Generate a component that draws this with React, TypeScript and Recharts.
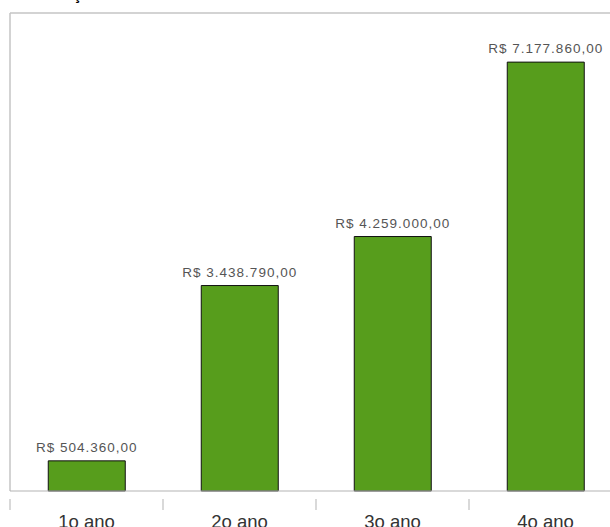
import { BarChart, Bar, XAxis, YAxis, ReferenceLine, LabelList } from 'recharts';

const YEARS = ['1o ano', '2o ano', '3o ano', '4o ano'];
const REVENUE = [504360, 3438790, 4259000, 7177860];

const GREEN = '#579D1C';
const FRAME = '#c4c4c4';
const AXIS = '#b3b3b3';

// plot runs past the right edge of the window, as in the source screenshot
const CHART_W = 700;
const PLOT_RIGHT = 622;
const LEFT = 10;
const BAND = (PLOT_RIGHT - LEFT) / YEARS.length;

const fmtBrl = (n: number) =>
  'R$ ' + n.toLocaleString('pt-BR', { minimumFractionDigits: 2, maximumFractionDigits: 2 });

const data = YEARS.map((name, i) => ({ name, value: REVENUE[i] }));

// value label above each bar, kept on one line
const ValueLabel = (props: any) => {
  const { x, y, width, value } = props;
  return (
    <text x={x + width / 2} y={y - 9} textAnchor="middle" fontSize={13.5} letterSpacing={1} fill="#555">
      {fmtBrl(value)}
    </text>
  );
};

// category label plus the tick mark on the left boundary of its band
const YearTick = (props: any) => {
  const { x, y, payload } = props;
  const bx = x - BAND / 2;
  return (
    <g>
      <line x1={bx} y1={y} x2={bx} y2={y + 11} stroke={AXIS} />
      <text x={x} y={y + 29} textAnchor="middle" fontSize={18.5} fill="#333">
        {payload.value}
      </text>
    </g>
  );
};

export default function App() {
  return (
    <div style={{ position: 'absolute', left: 0, top: 0, width: 610, height: 527, overflow: 'hidden', background: '#fff' }}>
      {/* cut-off title: only the cedilla is visible */}
      <div
        style={{
          position: 'absolute', left: 73, top: -13, fontFamily: '"Liberation Sans", Arial, sans-serif',
          fontWeight: 700, fontSize: 16, color: '#000', lineHeight: '16px',
        }}
      >
        ç
      </div>
      <BarChart
        width={CHART_W}
        height={527}
        data={data}
        accessibilityLayer={false}
        margin={{ top: 13, right: CHART_W - PLOT_RIGHT, left: LEFT - 1, bottom: 35 }}
        barCategoryGap="25%"
        style={{ fontFamily: '"Liberation Sans", Arial, sans-serif' }}
      >
        <YAxis
          domain={[0, 8000000]}
          width={1}
          tick={false}
          tickLine={false}
          axisLine={{ stroke: FRAME, strokeWidth: 1.5 }}
        />
        <XAxis
          dataKey="name"
          height={1}
          tickLine={false}
          axisLine={{ stroke: AXIS, strokeWidth: 1 }}
          tick={<YearTick />}
        />
        <ReferenceLine y={8000000} stroke={FRAME} strokeWidth={1.5} />
        <Bar dataKey="value" fill={GREEN} stroke="#111" strokeWidth={1} isAnimationActive={false}>
          <LabelList dataKey="value" content={ValueLabel} />
        </Bar>
      </BarChart>
    </div>
  );
}
